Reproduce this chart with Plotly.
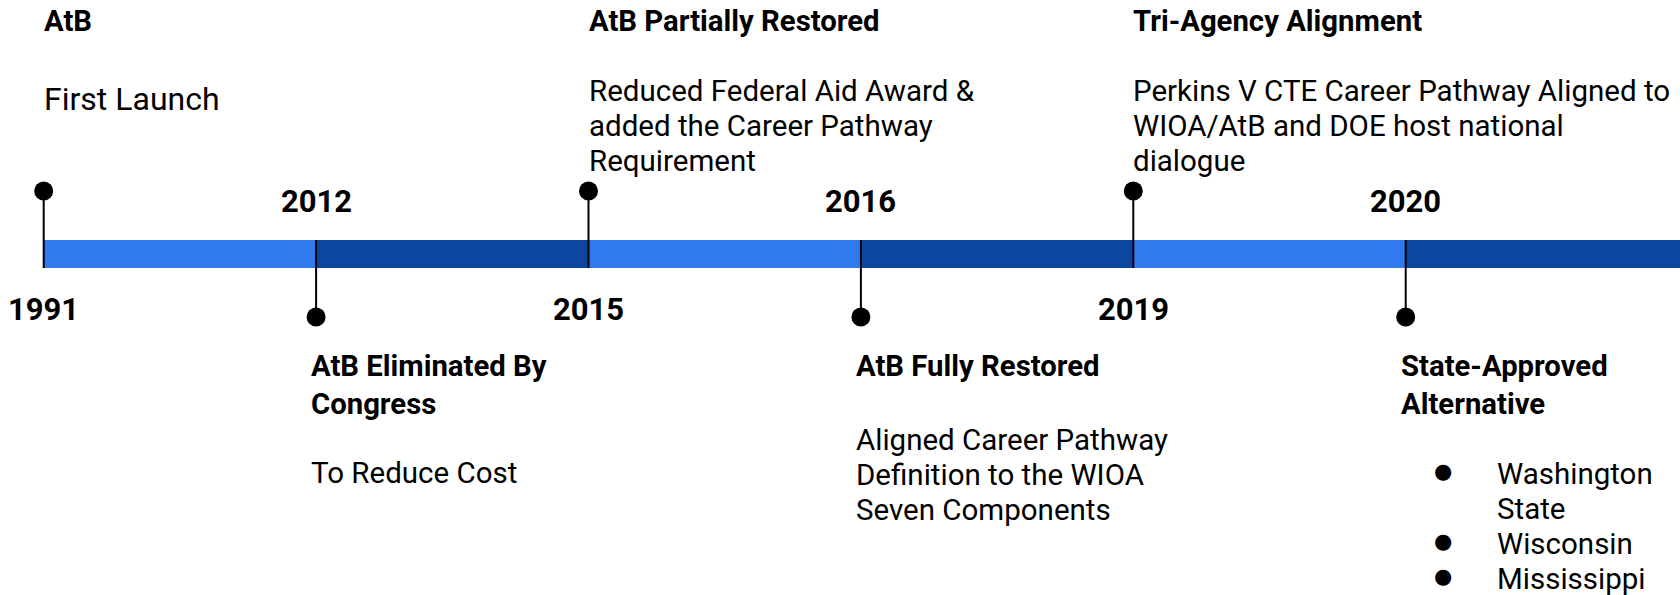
import plotly.graph_objects as go

# ---------------- data ----------------
years = ["1991", "2012", "2015", "2016", "2019", "2020"]
titles = [
    ["AtB"],
    ["AtB Eliminated By", "Congress"],
    ["AtB Partially Restored"],
    ["AtB Fully Restored"],
    ["Tri-Agency Alignment"],
    ["State-Approved", "Alternative"],
]
details = [
    ["First Launch"],
    ["To Reduce Cost"],
    ["Reduced Federal Aid Award &", "added the Career Pathway", "Requirement"],
    ["Aligned Career Pathway", "Definition to the WIOA", "Seven Components"],
    ["Perkins V CTE Career Pathway Aligned to", "WIOA/AtB and DOE host national", "dialogue"],
    [],
]
states = [["Washington", "State"], ["Wisconsin"], ["Mississippi"]]  # bullet list under 2020

# ---------------- layout constants ----------------
W, H = 1680, 595
X0, STEP = 43.7, 272.4
BAR_Y, BAR_W = 254, 28
TOP_DOT, BOT_DOT = 191, 317
BAR_TOP, BAR_BOT = 240, 268
LIGHT, DARK = "#2F7AEF", "#0B46A0"
FONT = "Roboto, DejaVu Sans, sans-serif"
INK = "#000000"
TITLE_SIZE, BODY_SIZE, YEAR_SIZE = 29.3, 29.5, 31

n = len(years)
idx = list(range(n))
x_end = (W - X0) / STEP

fig = go.Figure()

# timeline bar segments
lengths = [1] * (n - 1) + [x_end - (n - 1) + 0.2]
fig.add_trace(go.Bar(
    orientation="h", y=[BAR_Y] * n, x=lengths, base=idx, width=BAR_W,
    marker=dict(color=[LIGHT if i % 2 == 0 else DARK for i in idx], line_width=0),
    hoverinfo="skip", showlegend=False,
))

# stems
sx, sy = [], []
for i in idx:
    up = (i % 2 == 0)
    sx += [i, i, None]
    sy += [TOP_DOT, BAR_BOT, None] if up else [BAR_TOP, BOT_DOT, None]
fig.add_trace(go.Scatter(x=sx, y=sy, mode="lines", line=dict(color=INK, width=2),
                         hoverinfo="skip", showlegend=False))

# dots
fig.add_trace(go.Scatter(
    x=idx, y=[TOP_DOT if i % 2 == 0 else BOT_DOT for i in idx], mode="markers",
    marker=dict(color=INK, size=19, line_width=0), hoverinfo="skip", showlegend=False))

ann = []

def add_text(x, y, text, size, bold=False, xanchor="left", xshift=0):
    ann.append(dict(
        x=x, y=y, xref="x", yref="y", text=text, showarrow=False,
        xanchor=xanchor, yanchor="middle", xshift=xshift,
        borderpad=0, borderwidth=0,
        font=dict(family=FONT, size=size, color=INK, weight="bold" if bold else "normal"),
    ))

# year labels
for i in idx:
    up = (i % 2 == 0)
    add_text(i, 309 if up else 201, years[i], YEAR_SIZE, bold=True, xanchor="center")

# event texts
TITLE_SP, BODY_SP = 38, 35
body_start_top = {0: 99}
body_size = {0: 32}
for i in idx:
    up = (i % 2 == 0)
    shift = 0 if up else -5
    ty = 21 if up else 366
    for k, line in enumerate(titles[i]):
        add_text(i, ty + k * TITLE_SP, line, TITLE_SIZE, bold=True, xshift=shift)
    last_title = ty + (len(titles[i]) - 1) * TITLE_SP
    if up:
        by = body_start_top.get(i, 91)
    else:
        by = last_title + (74 if len(titles[i]) == 1 else 69)
    for k, line in enumerate(details[i]):
        add_text(i, by + k * BODY_SP, line, body_size.get(i, BODY_SIZE), xshift=shift)

# bullet list under last event
last = n - 1
by = 474
k = 0
for item in states:
    add_text(last, by + k * BODY_SP - 3, "●", 21, xanchor="center", xshift=37)
    for line in item:
        add_text(last, by + k * BODY_SP, line, BODY_SIZE, xshift=91.5)
        k += 1

fig.update_layout(
    width=W, height=H, margin=dict(l=0, r=0, t=0, b=0),
    paper_bgcolor="white", plot_bgcolor="white",
    xaxis=dict(range=[-X0 / STEP, x_end], visible=False, fixedrange=True),
    yaxis=dict(range=[H, 0], visible=False, fixedrange=True),
    annotations=ann, barmode="overlay", showlegend=False,
)

fig.write_html("out.html", config={"displayModeBar": False},
               post_script="document.body.style.margin='0';")
